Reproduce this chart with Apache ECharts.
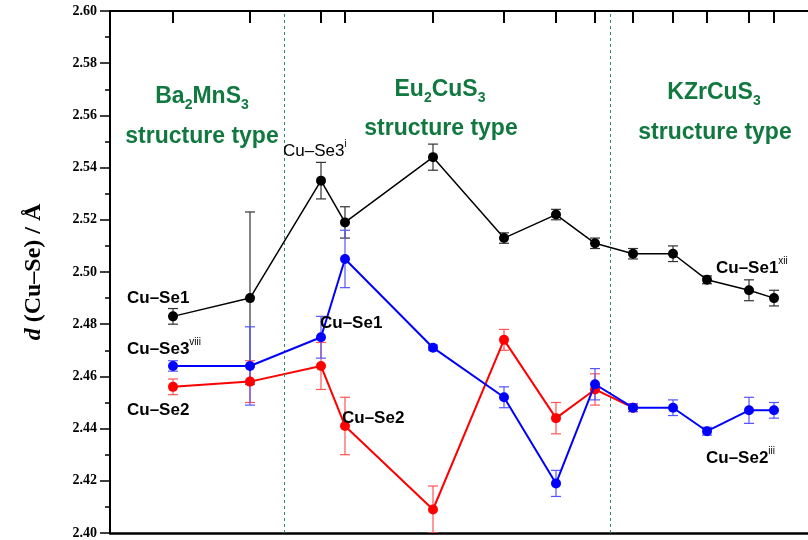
<!DOCTYPE html>
<html><head><meta charset="utf-8">
<script src="https://cdn.jsdelivr.net/npm/echarts@6/dist/echarts.min.js"></script>
<style>html,body{margin:0;padding:0;background:#fff}#c{width:808px;height:540px}</style>
</head><body><div id="c"></div>
<script>
// x positions (arbitrary horizontal units along the compound axis)
const xPos = [63, 140, 211, 235, 323, 394, 446, 485, 523, 563, 597, 639, 664];
// black: Cu–Se1 / Cu–Se3i / Cu–Se1xii
const blackVals = [2.483, 2.490, 2.535, 2.519, 2.544, 2.513, 2.522, 2.511, 2.507, 2.507, 2.497, 2.493, 2.490];
const blackErr  = [0.003, 0.033, 0.007, 0.006, 0.005, 0.002, 0.002, 0.002, 0.002, 0.003, 0.0015, 0.004, 0.003];
// blue: Cu–Se3viii / Cu–Se1 / Cu–Se2iii
const blueVals = [2.464, 2.464, 2.475, 2.505, 2.471, 2.452, 2.419, 2.457, 2.448, 2.448, 2.439, 2.447, 2.447];
const blueErr  = [0.002, 0.015, 0.008, 0.011, 0.001, 0.004, 0.005, 0.006, 0.0015, 0.003, 0.0015, 0.005, 0.003];
// red: Cu–Se2
const redVals = [2.456, 2.458, 2.464, 2.441, 2.409, 2.474, 2.444, 2.455, 2.448];
const redErr  = [0.003, 0.008, 0.009, 0.011, 0.009, 0.004, 0.006, 0.006, 0.0015];
// structure-type boundaries
const dividers = [174, 500];
const yMin = 2.40, yMax = 2.60, yStep = 0.02;

const chart = echarts.init(document.getElementById('c'), null, {renderer: 'canvas'});

function pts(vals) { return vals.map((v, i) => [xPos[i], v]); }
function errSeries(vals, errs, color) {
  return {
    type: 'custom', silent: true, clip: true, z: 1,
    data: vals.map((v, i) => [xPos[i], v - errs[i], v + errs[i]]),
    encode: {x: 0, y: [1, 2]},
    renderItem: (params, api) => {
      const lo = api.coord([api.value(0), api.value(1)]);
      const hi = api.coord([api.value(0), api.value(2)]);
      const w = 5;
      const style = {stroke: color, lineWidth: 1.2, fill: null};
      return {type: 'group', children: [
        {type: 'line', shape: {x1: lo[0], y1: lo[1], x2: hi[0], y2: hi[1]}, style},
        {type: 'line', shape: {x1: lo[0] - w, y1: lo[1], x2: lo[0] + w, y2: lo[1]}, style},
        {type: 'line', shape: {x1: hi[0] - w, y1: hi[1], x2: hi[0] + w, y2: hi[1]}, style}
      ]};
    }
  };
}
function lineSeries(vals, color, width, z) {
  return {
    type: 'line', data: pts(vals), z: z, symbol: 'circle', symbolSize: 10,
    lineStyle: {color: color, width: width}, itemStyle: {color: color},
    silent: true, animation: false
  };
}

const green = '#11783f';
const sansB = 'Liberation Sans';
function greenTitle(x, y, rich) {
  return {type: 'text', x: x, y: y, z: 100, style: {
    text: rich, fill: green, align: 'center', verticalAlign: 'middle',
    font: 'bold 23px "Liberation Sans"',
    rich: {
      n: {fontSize: 23, fontWeight: 'bold', fontFamily: sansB, fill: green, lineHeight: 31},
      s: {fontSize: 14, fontWeight: 'bold', fontFamily: sansB, fill: green, verticalAlign: 'bottom', lineHeight: 14}
    }
  }};
}
function bondLabel(x, y, rich, weight) {
  return {type: 'text', x: x, y: y, z: 100, style: {
    text: rich, fill: '#000', align: 'left', verticalAlign: 'middle',
    font: (weight || 'bold') + ' 17px "Liberation Sans"',
    rich: {
      n: {fontSize: 17, fontWeight: weight || 'bold', fontFamily: sansB, fill: '#000', lineHeight: 24},
      p: {fontSize: 10, fontWeight: 'normal', fontFamily: sansB, fill: '#000', verticalAlign: 'top', lineHeight: 12}
    }
  }};
}

const option = {
  animation: false,
  backgroundColor: '#fff',
  grid: {left: 110, right: 0, top: 11, bottom: 7, containLabel: false},
  xAxis: [
    {type: 'value', position: 'bottom', min: 0, max: 698,
     axisLine: {show: true, onZero: false, lineStyle: {color: '#000', width: 2.5}},
     axisTick: {show: false}, axisLabel: {show: false}, splitLine: {show: false}},
    {type: 'value', position: 'top', min: 0, max: 698,
     axisLine: {show: true, onZero: false, lineStyle: {color: '#000', width: 2}},
     axisTick: {show: true, inside: true, length: 12, customValues: xPos, lineStyle: {color: '#000', width: 2}},
     axisLabel: {show: false}, splitLine: {show: false}}
  ],
  yAxis: {
    type: 'value', min: yMin, max: yMax, interval: yStep,
    axisLine: {show: true, lineStyle: {color: '#000', width: 2}},
    axisTick: {show: true, length: 10, lineStyle: {color: '#000', width: 1.5}},
    minorTick: {show: true, splitNumber: 2, length: 5, lineStyle: {color: '#000', width: 1.5}},
    splitLine: {show: false}, minorSplitLine: {show: false},
    axisLabel: {formatter: v => v.toFixed(2), fontFamily: 'Liberation Serif', fontWeight: 'bold', fontSize: 14, color: '#000', margin: 13},
    name: '{it|d} (Cu–Se) / Å', nameLocation: 'middle', nameGap: 64,
    nameTextStyle: {fontFamily: 'Liberation Serif', fontWeight: 'bold', fontSize: 24, color: '#000',
      rich: {it: {fontFamily: 'Liberation Serif', fontWeight: 'bold', fontStyle: 'italic', fontSize: 24, color: '#000'}}}
  },
  series: [
    Object.assign(errSeries(blackVals, blackErr, '#333333'), {
      markLine: {silent: true, symbol: 'none', label: {show: false},
        lineStyle: {color: '#2e8b63', type: [3, 3], width: 1},
        data: dividers.map(v => ({xAxis: v}))}
    }),
    errSeries(redVals, redErr, '#ff5555'),
    errSeries(blueVals, blueErr, '#5555ff'),
    lineSeries(blackVals, '#000000', 1.5, 3),
    lineSeries(redVals, '#ff0000', 2, 4),
    lineSeries(blueVals, '#0000ff', 2, 5)
  ],
  graphic: [
    greenTitle(202, 97, '{n|Ba}{s|2}{n|MnS}{s|3}'),
    greenTitle(202, 137, '{n|structure type}'),
    greenTitle(440, 90, '{n|Eu}{s|2}{n|CuS}{s|3}'),
    greenTitle(441, 129, '{n|structure type}'),
    greenTitle(714, 93, '{n|KZrCuS}{s|3}'),
    greenTitle(715, 133, '{n|structure type}'),
    bondLabel(127, 298, '{n|Cu–Se1}'),
    bondLabel(127, 349, '{n|Cu–Se3}{p|viii}'),
    bondLabel(127, 410, '{n|Cu–Se2}'),
    bondLabel(283, 151, '{n|Cu–Se3}{p|i}', 'normal'),
    bondLabel(320, 323, '{n|Cu–Se1}'),
    bondLabel(342, 418, '{n|Cu–Se2}'),
    bondLabel(716, 268, '{n|Cu–Se1}{p|xii}'),
    bondLabel(706, 458, '{n|Cu–Se2}{p|iii}')
  ]
};
chart.setOption(option);
</script>
</body></html>
